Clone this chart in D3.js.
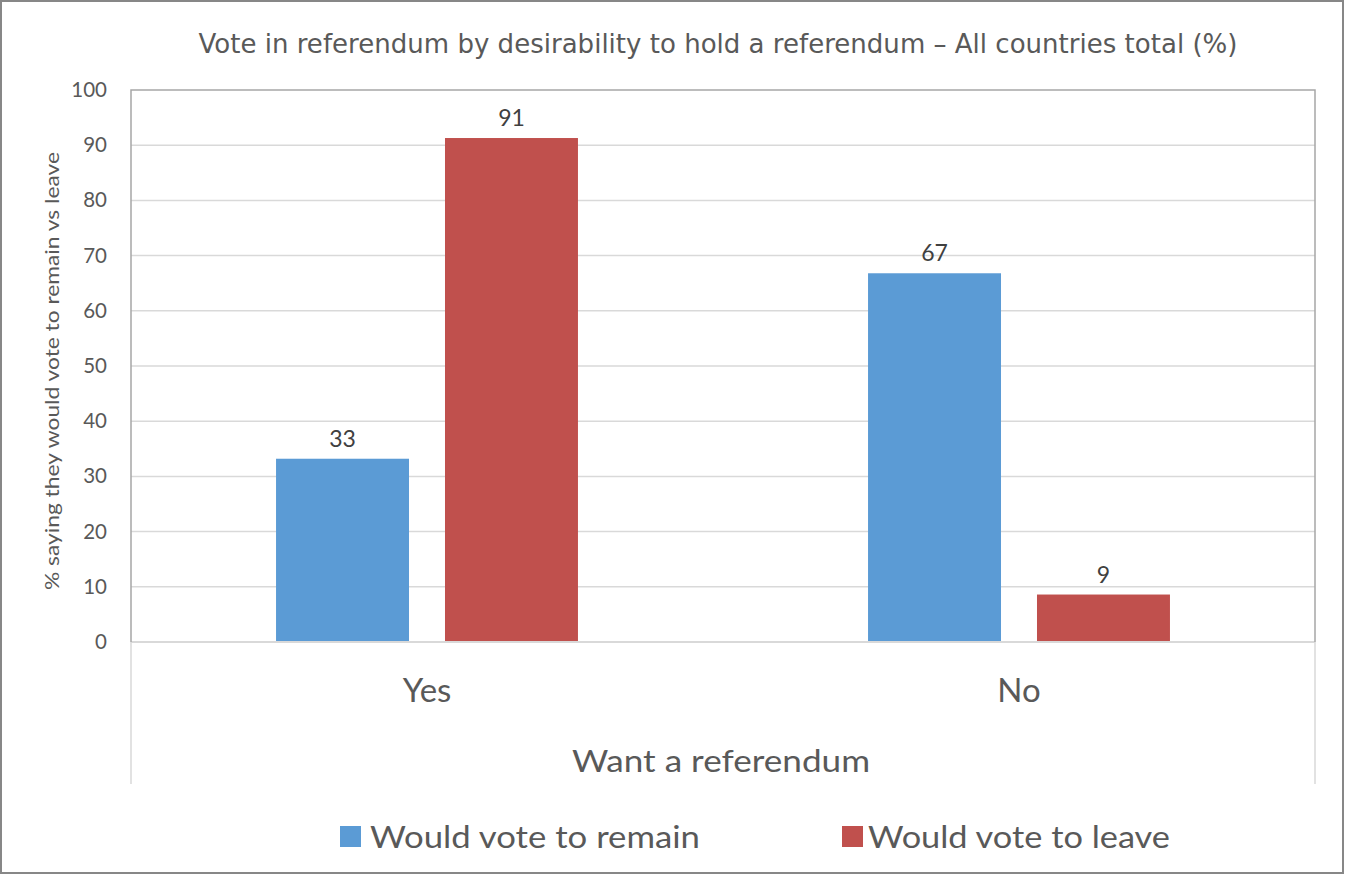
<!DOCTYPE html>
<html>
<head>
<meta charset="utf-8">
<script src="https://cdn.jsdelivr.net/npm/d3@7"></script>
<style>
  html, body { margin: 0; padding: 0; background: #fff; }
  svg { display: block; }
</style>
</head>
<body>
<svg id="chart" width="1345" height="875"></svg>
<script>
const categories = ["Yes", "No"];
const seriesNames = ["Would vote to remain", "Would vote to leave"];
const remainValues = [33.2, 66.8];
const leaveValues = [91.3, 8.6];
const remainLabels = ["33", "67"];
const leaveLabels = ["91", "9"];
const yTicks = [0, 10, 20, 30, 40, 50, 60, 70, 80, 90, 100];
const seriesColors = ["#5B9BD5", "#C0504D"];

const titleText = "Vote in referendum by desirability to hold a referendum \u2013 All countries total (%)";
const yTitleText = "% saying they would vote to remain vs leave";
const xTitleText = "Want a referendum";

const svg = d3.select("#chart");
const W = 1345, H = 875;
const plot = { left: 131, right: 1315, top: 90, bottom: 642 };
const textFont = "Lato, 'Open Sans', sans-serif";
const textColor = "#595959";

svg.append("rect").attr("x", 1).attr("y", 1).attr("width", W - 3).attr("height", H - 3)
  .attr("fill", "#fff").attr("stroke", "#878787").attr("stroke-width", 2);

const x0 = d3.scaleBand().domain(categories).range([plot.left, plot.right]).padding(0);
const cw = x0.bandwidth();
const x1 = d3.scaleBand().domain(seriesNames).range([cw * 0.245, cw * 0.755]).paddingInner(0.213);
const y = d3.scaleLinear().domain([0, 100]).range([plot.bottom, plot.top]);

// gridlines
svg.append("g").selectAll("line").data(yTicks.filter(t => t > 0 && t < 100)).join("line")
  .attr("x1", plot.left).attr("x2", plot.right)
  .attr("y1", d => y(d)).attr("y2", d => y(d))
  .attr("stroke", "#d9d9d9").attr("stroke-width", 1.5);

// category area extension lines
svg.append("line").attr("x1", plot.left).attr("x2", plot.left).attr("y1", plot.bottom).attr("y2", 784)
  .attr("stroke", "#d9d9d9").attr("stroke-width", 1.5);
svg.append("line").attr("x1", plot.right).attr("x2", plot.right).attr("y1", plot.bottom).attr("y2", 784)
  .attr("stroke", "#d9d9d9").attr("stroke-width", 1.5);

// bars
const rows = categories.map((c, i) => ({ cat: c, vals: [remainValues[i], leaveValues[i]], labels: [remainLabels[i], leaveLabels[i]] }));
const groups = svg.append("g").selectAll("g").data(rows).join("g")
  .attr("transform", d => `translate(${x0(d.cat)},0)`);
groups.selectAll("rect").data(d => d.vals.map((v, j) => ({ s: seriesNames[j], v, j }))).join("rect")
  .attr("x", d => x1(d.s)).attr("width", x1.bandwidth())
  .attr("y", d => y(d.v)).attr("height", d => y(0) - y(d.v))
  .attr("fill", d => seriesColors[d.j]);
groups.selectAll("text").data(d => d.vals.map((v, j) => ({ s: seriesNames[j], v, j, label: d.labels[j] }))).join("text")
  .attr("x", d => x1(d.s) + x1.bandwidth() / 2).attr("y", d => y(d.v) - 12)
  .attr("text-anchor", "middle").attr("font-family", textFont).attr("font-size", 23)
  .attr("fill", "#404040").text(d => d.label);

// plot border (top, left, right) and baseline
svg.append("line").attr("x1", plot.left).attr("x2", plot.right).attr("y1", plot.bottom).attr("y2", plot.bottom)
  .attr("stroke", "#d9d9d9").attr("stroke-width", 2);
svg.append("path")
  .attr("d", `M${plot.left},${plot.bottom}V${plot.top}H${plot.right}V${plot.bottom}`)
  .attr("fill", "none").attr("stroke", "#a6a6a6").attr("stroke-width", 1.5);

// y axis labels
const yAxis = d3.axisLeft(y).tickValues(yTicks).tickSize(0).tickPadding(24);
const yg = svg.append("g").attr("transform", `translate(${plot.left},0)`).call(yAxis);
yg.select(".domain").remove();
yg.selectAll("text").attr("font-family", textFont).attr("font-size", 20.5).attr("fill", textColor);

// x axis labels
const xAxis = d3.axisBottom(x0).tickSize(0).tickPadding(0);
const xg = svg.append("g").attr("transform", `translate(0,${plot.bottom})`).call(xAxis);
xg.select(".domain").remove();
xg.selectAll("text").attr("dy", null).attr("y", 60).attr("font-family", textFont).attr("font-size", 33).attr("fill", textColor);

// title
svg.append("text").attr("x", 718).attr("y", 53).attr("text-anchor", "middle")
  .attr("font-family", "'DejaVu Sans', sans-serif").attr("font-size", 27).attr("fill", textColor)
  .attr("textLength", 1039).attr("lengthAdjust", "spacingAndGlyphs").text(titleText);

// axis titles
svg.append("text").attr("transform", "translate(59,371) rotate(-90)").attr("text-anchor", "middle")
  .attr("font-family", textFont).attr("font-size", 19).attr("fill", textColor)
  .attr("textLength", 438).attr("lengthAdjust", "spacingAndGlyphs").text(yTitleText);
svg.append("text").attr("x", 721).attr("y", 772).attr("text-anchor", "middle")
  .attr("font-family", textFont).attr("font-size", 31).attr("fill", textColor)
  .attr("textLength", 298).attr("lengthAdjust", "spacingAndGlyphs").text(xTitleText);

// legend
const legendItems = [
  { name: seriesNames[0], color: seriesColors[0], sx: 340, tx: 370, tw: 330 },
  { name: seriesNames[1], color: seriesColors[1], sx: 842, tx: 868, tw: 302 }
];
const lg = svg.append("g").selectAll("g").data(legendItems).join("g");
lg.append("rect").attr("x", d => d.sx).attr("y", 826).attr("width", 21).attr("height", 21).attr("fill", d => d.color);
lg.append("text").attr("x", d => d.tx).attr("y", 848)
  .attr("font-family", textFont).attr("font-size", 31).attr("fill", textColor)
  .attr("textLength", d => d.tw).attr("lengthAdjust", "spacingAndGlyphs").text(d => d.name);
</script>
</body>
</html>
